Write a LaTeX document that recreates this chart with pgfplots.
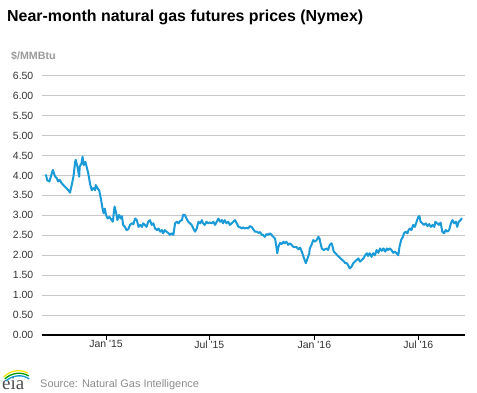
\documentclass[border=0pt]{standalone}
\usepackage{pgfplots}
\pgfplotsset{compat=1.18}
\usepackage{fontspec}
\setmainfont{Liberation Sans}
\newfontfamily\eiafont{Liberation Serif}
\definecolor{eiablue}{HTML}{1A9AD6}
\definecolor{gridgray}{HTML}{C8C8C8}
\definecolor{labelgray}{HTML}{333333}
\definecolor{unitgray}{HTML}{9A9A9A}
\definecolor{srcgray}{HTML}{8C8C8C}
\begin{document}
\begin{tikzpicture}
\path[use as bounding box] (-41.7bp,-58bp) rectangle (435.3bp,335bp);
\begin{axis}[
  at={(0,0)}, anchor=south west,
  scale only axis, width=423.3bp, height=259.3bp,
  xmin=-112.6, xmax=628.8, ymin=0, ymax=6.5,
  axis x line*=bottom, axis y line*=left,
  y axis line style={draw=none},
  x axis line style={black, line width=1.1bp, -},
  tick align=outside,
  major tick length=5bp,
  ytick style={draw=none},
  xtick style={black, line width=0.8bp},
  ytick={0,0.5,...,6.5},
  xtick={0,181,365,547},
  xticklabels={Jan \textquotesingle15, Jul \textquotesingle15, Jan \textquotesingle16, Jul \textquotesingle16},
  ymajorgrids, grid style={draw=gridgray, line width=0.8bp},
  yticklabel={\pgfmathprintnumber[fixed, fixed zerofill, precision=2]{\tick}},
  tick label style={font=\fontsize{10.5}{12}\selectfont, text=labelgray},
  /pgf/number format/assume math mode=true,
  yticklabel style={anchor=east, inner sep=0pt, xshift=-3.2bp},
  xticklabel style={anchor=north, inner sep=0pt, yshift=-0.5bp},
  clip=false,
]
\addplot[eiablue, line width=2bp, line join=round, line cap=round] table {
x y
-105 4.01
-103 3.88
-99 3.85
-96 4.00
-93 4.14
-91 4.05
-89 3.97
-86 3.93
-84 3.85
-81 3.89
-78 3.81
-72 3.72
-66 3.63
-63 3.57
-60 3.76
-57 3.97
-54 4.34
-53 4.39
-50 4.22
-47 3.97
-46 4.22
-43 4.30
-41 4.47
-39 4.26
-36 4.34
-34 4.22
-31 4.05
-28 3.80
-25 3.63
-22 3.68
-19 3.63
-18 3.76
-15 3.68
-12 3.63
-9 3.42
-6 3.17
-4 3.05
-2 3.17
0 3.01
3 2.92
6 2.96
9 2.90
12 2.84
15 3.22
18 3.05
20 2.88
23 3.01
26 2.92
28 2.98
30 2.76
33 2.71
36 2.63
39 2.65
42 2.76
45 2.80
48 2.78
51 2.92
54 2.88
57 2.71
60 2.76
63 2.71
65 2.80
68 2.76
71 2.71
74 2.84
77 2.88
80 2.76
83 2.80
86 2.67
89 2.63
92 2.67
95 2.59
98 2.63
100 2.55
103 2.63
106 2.59
109 2.56
112 2.51
115 2.55
118 2.51
121 2.80
124 2.84
127 2.80
130 2.86
133 2.88
135 3.01
138 3.01
141 2.92
144 2.84
147 2.80
150 2.76
153 2.67
156 2.59
159 2.67
162 2.84
165 2.80
168 2.88
170 2.80
173 2.76
176 2.84
179 2.80
182 2.82
185 2.80
188 2.84
191 2.76
194 2.84
197 2.92
200 2.84
203 2.88
205 2.80
208 2.88
211 2.80
214 2.84
217 2.76
220 2.80
223 2.84
226 2.88
229 2.80
232 2.71
235 2.70
238 2.67
240 2.70
243 2.67
246 2.69
249 2.67
252 2.73
255 2.71
258 2.65
261 2.59
264 2.59
267 2.56
270 2.58
273 2.51
275 2.51
278 2.46
281 2.53
284 2.51
287 2.55
290 2.51
293 2.46
296 2.42
298 2.26
300 2.05
302 2.21
305 2.31
308 2.28
311 2.34
313 2.30
316 2.34
319 2.26
322 2.30
325 2.26
328 2.21
334 2.20
337 2.15
340 2.19
343 2.09
346 1.96
349 1.84
350 1.80
353 1.92
356 2.05
357 2.17
360 2.26
363 2.38
366 2.34
369 2.38
372 2.46
374 2.42
375 2.34
378 2.17
381 2.13
384 2.15
387 2.17
389 2.13
392 2.26
395 2.30
397 2.21
399 2.09
402 2.05
405 2.00
408 1.96
411 1.92
414 1.88
417 1.84
419 1.80
422 1.80
424 1.75
427 1.67
430 1.71
433 1.80
436 1.84
439 1.88
442 1.92
445 1.84
448 1.88
451 1.92
454 2.00
457 2.05
459 1.98
462 2.05
465 1.96
468 2.05
471 2.00
474 2.13
477 2.06
480 2.17
483 2.11
486 2.17
489 2.09
492 2.17
494 2.13
497 2.17
500 2.13
503 2.06
506 2.09
509 2.05
512 2.00
514 2.21
517 2.38
520 2.46
522 2.55
525 2.59
528 2.55
530 2.63
532 2.67
535 2.63
538 2.76
541 2.71
544 2.84
547 2.96
549 2.98
551 2.84
554 2.80
557 2.76
560 2.80
563 2.73
566 2.78
569 2.71
572 2.76
575 2.71
577 2.84
580 2.80
583 2.76
586 2.82
589 2.59
592 2.55
595 2.63
598 2.59
601 2.63
604 2.80
607 2.88
610 2.80
613 2.84
615 2.71
618 2.84
621 2.88
623 2.92
};
\end{axis}
% titles and source
\node[anchor=base west, inner sep=0pt, font=\fontsize{16}{19}\selectfont\bfseries] at (-34.7bp,313.3bp) {Near-month natural gas futures prices (Nymex)};
\node[anchor=base west, inner sep=0pt, font=\fontsize{10.7}{13}\selectfont\bfseries, text=unitgray] at (-30.7bp,275.7bp) {\$/MMBtu};
\node[anchor=base west, inner sep=0pt, font=\fontsize{11}{13}\selectfont, text=srcgray] at (-1.7bp,-52.3bp) {Source: Natural Gas Intelligence};
% eia logo
\node[anchor=base west, inner sep=0pt, font=\eiafont\fontsize{19}{22}\selectfont, text=black!70] at (-39.8bp,-54.3bp) {eia};
\draw[line width=1.3bp, draw=yellow!85!orange] (-38bp,-42bp) .. controls (-31bp,-35bp) and (-21bp,-34bp) .. (-14bp,-38bp);
\draw[line width=1.3bp, draw=green!60!black] (-37bp,-44bp) .. controls (-30bp,-37.5bp) and (-20bp,-36.5bp) .. (-13bp,-41bp);
\draw[line width=1.3bp, draw=eiablue] (-36bp,-46bp) .. controls (-29bp,-40bp) and (-19bp,-39bp) .. (-12.5bp,-44bp);
\end{tikzpicture}
\end{document}
